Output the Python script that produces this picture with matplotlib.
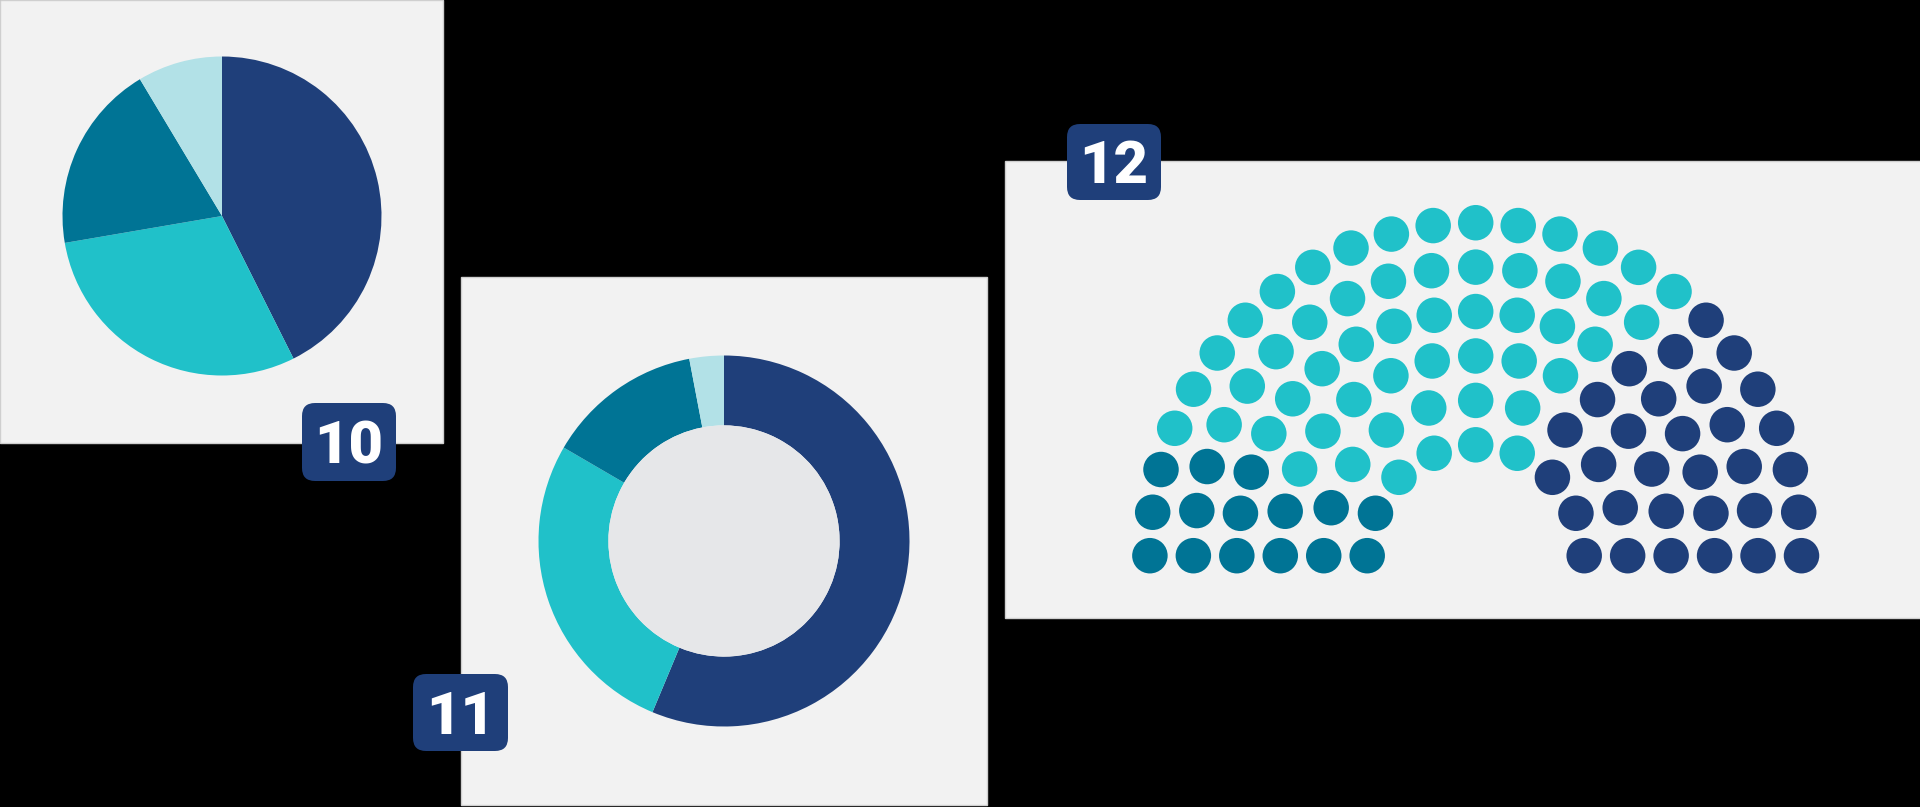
import numpy as np
import matplotlib
matplotlib.use("Agg")
import matplotlib.pyplot as plt
from matplotlib.patches import Rectangle, Circle, FancyBboxPatch

# --- dados ---
pie_values = [42.6, 29.7, 19.1, 8.6]        # grafico 10 (pizza)
donut_values = [56.3, 27.1, 13.6, 3.0]      # grafico 11 (rosca)
seat_totals = [15, 54, 31]                  # grafico 12: teal, cyan, navy
ring_seats = [9, 11, 15, 19, 21, 25]        # assentos por anel (interno -> externo)
teal_by_ring = [2, 2, 2, 3, 3, 3]           # assentos teal em cada anel (lado esquerdo)
navy_by_ring = [3, 4, 5, 6, 6, 7]           # assentos navy em cada anel (lado direito)
badge_labels = ["10", "11", "12"]

# --- cores ---
NAVY = "#1f3f7a"
CYAN = "#20c1c9"
TEAL = "#007495"
LIGHT = "#b2e1e7"
PANEL = "#f2f2f2"
HOLE = "#e6e7e9"
EDGE = "#cfcfcf"
slice_colors = [NAVY, CYAN, TEAL, LIGHT]

W, H = 1920, 807
DPI = 100


def up(y):
    # converte y medido a partir do topo (pixels) para o eixo com y para cima
    return H - y


fig = plt.figure(figsize=(W / DPI, H / DPI), dpi=DPI, facecolor="black")
ax = fig.add_axes([0, 0, 1, 1])
ax.set_facecolor("black")

# --- paineis (x0, y0, x1, y1 em pixels a partir do topo) ---
panels = [(0, 0, 443, 443), (461, 277, 987, 805), (1005, 161, 1921, 618)]
for x0, y0, x1, y1 in panels:
    ax.add_patch(Rectangle((x0, up(y1)), x1 - x0, y1 - y0,
                           facecolor=PANEL, edgecolor=EDGE, linewidth=1, zorder=1))

# --- 10: pizza ---
ax.pie(pie_values, colors=slice_colors, startangle=90, counterclock=False,
       center=(222, up(216)), radius=159.5, frame=True,
       wedgeprops=dict(linewidth=0, zorder=2))

# --- 11: rosca ---
outer_r, inner_r = 185.5, 115.6
ax.pie(donut_values, colors=slice_colors, startangle=90, counterclock=False,
       center=(724, up(541)), radius=outer_r, frame=True,
       wedgeprops=dict(width=outer_r - inner_r, linewidth=0, zorder=2))
ax.add_patch(Circle((724, up(541)), inner_r, facecolor=HOLE, linewidth=0, zorder=3))

# --- 12: parlamento ---
cx, cy = 1475.7, 555.7
r0, dr = 108.5, 43.46
y_stretch = 1.022
xs, ys, cs = [], [], []
for i, n in enumerate(ring_seats):
    r = r0 + dr * i
    ang = np.radians(np.linspace(180, 0, n))
    n_teal, n_navy = teal_by_ring[i], navy_by_ring[i]
    for k, a in enumerate(ang):
        xs.append(cx + r * np.cos(a))
        ys.append(up(cy) + r * np.sin(a) * y_stretch)
        if k < n_teal:
            cs.append(TEAL)
        elif k >= n - n_navy:
            cs.append(NAVY)
        else:
            cs.append(CYAN)
assert sum(ring_seats) == sum(seat_totals)
dot_pt = 35.5 * 72 / DPI
ax.scatter(xs, ys, s=dot_pt ** 2, c=cs, linewidths=0, zorder=4)

# --- selos numerados ---
badges = [(302, 403, 396, 481), (413, 674, 508, 751), (1067, 124, 1161, 200)]
for (x0, y0, x1, y1), label in zip(badges, badge_labels):
    rad = 13
    ax.add_patch(FancyBboxPatch((x0 + rad, up(y1) + rad), x1 - x0 - 2 * rad, y1 - y0 - 2 * rad,
                                boxstyle=f"round,pad={rad}", facecolor=NAVY,
                                edgecolor="none", zorder=6))
    ax.text((x0 + x1) / 2, up((y0 + y1) / 2 + 21), label, color="white",
            fontsize=43, fontweight="black", family=["Roboto", "DejaVu Sans"],
            ha="center", va="baseline", zorder=7)

ax.set_xlim(0, W)
ax.set_ylim(0, H)
ax.set_aspect("auto")
ax.axis("off")

fig.savefig("out.png", dpi=DPI, facecolor="black")
